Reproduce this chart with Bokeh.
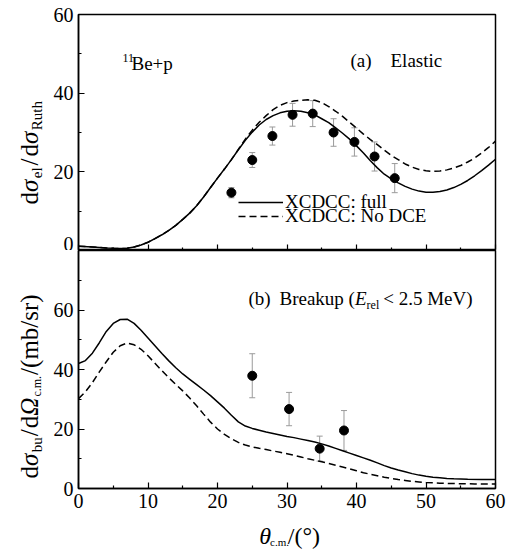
import math
from bokeh.plotting import figure
from bokeh.models import (Range1d, FixedTicker, Whisker, TeeHead, ColumnDataSource,
                          Label, Legend, LegendItem)
from bokeh.layouts import column, row
from bokeh.core.properties import value
from bokeh.embed import file_html
from bokeh.resources import INLINE

# ---------------- data ----------------
# (a) Elastic, XCDCC full
el_full_x = [0, 2, 4, 5, 6, 7, 8, 9, 10, 11, 12, 13, 14, 15, 16, 17, 18, 19, 20, 21, 22, 23,
             24, 25, 26, 27, 28, 29, 30, 31, 32, 33, 34, 35, 36, 37, 38, 39, 40, 41, 42, 43,
             44, 45, 46, 47, 48, 49, 50, 51, 52, 53, 54, 55, 56, 57, 58, 59, 60]
el_full_y = [1.1, 0.9, 0.65, 0.55, 0.5, 0.6, 0.9, 1.4, 2.1, 3.0, 4.0, 5.1, 6.4, 7.9, 9.5, 11.4,
             13.6, 16.0, 18.4, 20.7, 23.1, 25.6, 28.0, 30.1, 31.9, 33.3, 34.3, 35.0, 35.4, 35.5,
             35.4, 35.0, 34.5, 33.5, 32.5, 31.2, 29.8, 28.3, 26.6, 24.8, 22.8, 21.0, 19.4, 18.2,
             17.2, 16.3, 15.6, 15.1, 14.8, 14.8, 15.0, 15.4, 16.0, 16.8, 17.8, 19.0, 20.3, 21.7, 23.2]
# (a) Elastic, XCDCC No DCE
el_nodce_x = [0, 2, 4, 5, 6, 7, 8, 9, 10, 11, 12, 13, 14, 15, 16, 17, 18, 19, 20, 21, 22, 23,
              24, 25, 26, 27, 28, 29, 30, 31, 32, 33, 34, 35, 36, 37, 38, 39, 40, 41, 42, 43,
              44, 45, 46, 47, 48, 49, 50, 51, 52, 53, 54, 55, 56, 57, 58, 59, 60]
el_nodce_y = [1.1, 0.9, 0.65, 0.55, 0.5, 0.6, 0.9, 1.4, 2.1, 3.0, 4.0, 5.1, 6.4, 7.9, 9.5, 11.4,
              13.6, 16.0, 18.4, 20.7, 23.1, 25.7, 28.3, 30.6, 32.6, 34.3, 35.8, 36.9, 37.6, 38.0,
              38.2, 38.3, 38.2, 37.6, 36.6, 35.4, 34.1, 32.6, 31.1, 29.6, 28.2, 26.9, 25.5, 24.2,
              23.1, 22.0, 21.2, 20.6, 20.3, 20.1, 20.2, 20.5, 21.0, 21.6, 22.5, 23.5, 24.8, 26.2, 27.8]
el_exp_x = [22.0, 25.0, 27.9, 30.8, 33.7, 36.7, 39.7, 42.6, 45.5]
el_exp_y = [14.7, 23.0, 29.1, 34.5, 34.8, 30.0, 27.6, 23.9, 18.4]
el_exp_err = [1.3, 1.9, 2.3, 2.9, 3.3, 3.5, 3.6, 3.7, 3.7]

# (b) Breakup, XCDCC full
bu_full_x = [0, 1, 2, 3, 4, 5, 6, 7, 8, 9, 10, 11, 12, 13, 14, 15, 16, 17, 18, 19, 20, 21, 22,
             23, 24, 25, 26, 27, 28, 29, 30, 31, 32, 33, 34, 35, 36, 37, 38, 39, 40, 41, 42, 43,
             44, 45, 46, 47, 48, 49, 50, 51, 52, 53, 54, 56, 58, 60]
bu_full_y = [42.0, 43.0, 45.5, 49.0, 52.8, 55.5, 56.8, 56.9, 55.5, 53.2, 50.6, 48.0, 45.4, 42.9,
             40.6, 38.5, 36.7, 34.9, 33.1, 31.2, 29.1, 27.0, 24.6, 22.4, 21.0, 20.2, 19.6, 19.0,
             18.5, 18.0, 17.5, 17.1, 16.6, 16.1, 15.6, 15.0, 14.3, 13.5, 12.7, 11.9, 11.1, 10.3,
             9.5, 8.6, 7.7, 6.9, 6.2, 5.6, 5.0, 4.5, 4.1, 3.8, 3.6, 3.4, 3.3, 3.15, 3.05, 3.0]
# (b) Breakup, XCDCC No DCE
bu_nodce_x = [0, 1, 2, 3, 4, 5, 6, 7, 8, 9, 10, 11, 12, 13, 14, 15, 16, 17, 18, 19, 20, 21, 22,
              23, 24, 25, 26, 27, 28, 29, 30, 31, 32, 33, 34, 35, 36, 37, 38, 39, 40, 41, 42, 43,
              44, 45, 46, 47, 48, 49, 50, 52, 54, 57, 60]
bu_nodce_y = [30.2, 32.5, 35.6, 39.2, 42.6, 45.8, 48.0, 48.9, 48.3, 46.8, 44.6, 42.1, 39.6, 37.2,
              35.0, 32.8, 30.4, 27.8, 25.0, 22.3, 20.0, 18.2, 16.7, 15.5, 14.6, 14.0, 13.5, 13.1,
              12.6, 12.2, 11.7, 11.2, 10.6, 10.0, 9.5, 9.0, 8.4, 7.8, 7.2, 6.6, 6.0, 5.3, 4.8, 4.3,
              3.8, 3.4, 3.0, 2.7, 2.4, 2.2, 2.0, 1.8, 1.65, 1.55, 1.5]
bu_exp_x = [25.0, 30.3, 34.7, 38.2]
bu_exp_y = [37.9, 26.7, 13.4, 19.5]
bu_exp_err = [7.4, 5.6, 4.2, 6.7]

x_ticks = [0, 10, 20, 30, 40, 50, 60]
x_minor = [5, 15, 25, 35, 45, 55]
ya_ticks = [0, 20, 40, 60]
ya_minor = [10, 30, 50]
yb_ticks = [0, 20, 40, 60]
yb_minor = [10, 30, 50, 70]

FONT = "Liberation Serif"
ERR = "#9a9a9a"
PAGE_H = 555
LEFT_W = 46

# ------------- text width helper (Times metrics) -------------
WR = {' ': 250, '(': 333, ')': 333, '/': 278, '.': 250, ':': 278, '+': 564, '<': 564, '°': 400,
      'B': 667, 'C': 667, 'D': 722, 'E': 611, 'M': 889, 'N': 722, 'R': 667, 'V': 722, 'X': 722,
      'a': 444, 'b': 500, 'c': 444, 'd': 500, 'e': 444, 'f': 333, 'h': 500, 'i': 278, 'k': 500,
      'l': 278, 'm': 778, 'o': 500, 'p': 500, 'r': 333, 's': 389, 't': 278, 'u': 500,
      'θ': 500, 'σ': 550, 'Ω': 770}


def tw(s, size):
    return sum(WR.get(c, 500) for c in s) * size / 1000.0


def place(p, cx, cy, pieces, px, py):
    """Horizontal rich text made of Labels inside a plot frame (page pixel anchors)."""
    cur = px
    for txt, size, style, shift, gap in pieces:
        cur += gap
        p.add_layout(Label(x=cx(cur), y=cy(py + shift), text=txt,
                           text_font=FONT, text_font_size=f"{size}px", text_font_style=style,
                           text_align="left", text_baseline="alphabetic", text_color="black"))
        cur += tw(txt, size)


def glyph_text(p, pieces, px, py, x0, y_top, vertical=False):
    """Rich text drawn as text glyphs in a strip figure whose data units are pixels."""
    cur = py if vertical else px
    for txt, size, style, shift, gap in pieces:
        if vertical:
            cur -= gap
            x, y = px + shift - x0, y_top - cur
            ang = math.pi / 2
        else:
            cur += gap
            x, y = cur - x0, y_top - (py + shift)
            ang = 0
        p.text(x=[x], y=[y], text=[txt], angle=ang,
               text_font=value(FONT), text_font_size=value(f"{size}px"),
               text_font_style=style, text_align="left", text_baseline="alphabetic",
               text_color="black")
        cur = cur - tw(txt, size) if vertical else cur + tw(txt, size)


def style_axis(ax, ticks, minor, labels=True):
    ax.ticker = FixedTicker(ticks=ticks, minor_ticks=minor)
    ax.axis_line_color = "black"
    ax.axis_line_width = 1.5
    ax.major_tick_in = 6
    ax.major_tick_out = 0
    ax.minor_tick_in = 3
    ax.minor_tick_out = 0
    ax.major_tick_line_color = "black"
    ax.minor_tick_line_color = "black"
    ax.major_tick_line_width = 1.2
    ax.minor_tick_line_width = 1.2
    ax.major_label_text_font = FONT
    ax.major_label_text_color = "black"
    if labels:
        ax.major_label_text_font_size = "20px"
        ax.major_label_standoff = 5
    else:
        ax.major_label_text_font_size = "0px"
        ax.major_label_text_alpha = 0
        ax.major_label_standoff = 0


def base_fig(height, ymax, top, bottom):
    p = figure(width=512 - LEFT_W, height=height, x_range=Range1d(0, 60), y_range=Range1d(0, ymax),
               output_backend="svg", toolbar_location=None,
               min_border_left=78 - LEFT_W, min_border_right=17, min_border_top=top,
               min_border_bottom=bottom)
    p.grid.visible = False
    p.outline_line_color = "black"
    p.outline_line_width = 1.5
    p.outline_line_alpha = 1.0
    p.background_fill_color = "white"
    p.border_fill_color = "white"
    return p


def strip_fig(width, height):
    s = figure(width=width, height=height, x_range=Range1d(0, width), y_range=Range1d(0, height),
               output_backend="svg", toolbar_location=None,
               x_axis_location=None, y_axis_location=None,
               min_border_left=0, min_border_right=0, min_border_top=0, min_border_bottom=0)
    s.grid.visible = False
    s.outline_line_color = None
    s.background_fill_color = "white"
    s.border_fill_color = "white"
    return s


def cxa(px):
    return (px - 78) / 6.95


def cya(py):
    return (250 - py) * 60 / 236


def cyb(py):
    return (488 - py) * 80 / 238


# ---------------- panel (a) ----------------
p1 = base_fig(250, 60, 14, 0)
style_axis(p1.xaxis[0], x_ticks, x_minor, labels=False)
style_axis(p1.yaxis[0], ya_ticks, ya_minor)

ra_full = p1.line(el_full_x, el_full_y, line_color="black", line_width=1.5)
ra_nodce = p1.line(el_nodce_x, el_nodce_y, line_color="black", line_width=1.5, line_dash="7 4")
src_a = ColumnDataSource(dict(x=el_exp_x,
                              upper=[y + e for y, e in zip(el_exp_y, el_exp_err)],
                              lower=[y - e for y, e in zip(el_exp_y, el_exp_err)]))
p1.add_layout(Whisker(source=src_a, base="x", upper="upper", lower="lower",
                      line_color=ERR, line_width=1,
                      upper_head=TeeHead(size=6, line_color=ERR, line_width=1),
                      lower_head=TeeHead(size=6, line_color=ERR, line_width=1)))
p1.scatter(el_exp_x, el_exp_y, size=9, fill_color="black", line_color="black")

for item, ypos in ((LegendItem(label="XCDCC: full", renderers=[ra_full]), 37.3),
                   (LegendItem(label="XCDCC: No DCE", renderers=[ra_nodce]), 23.0)):
    lg = Legend(items=[item], location=(160, ypos), padding=0, margin=0, spacing=0,
                glyph_width=45, glyph_height=22, label_height=22, label_standoff=2,
                label_text_font=FONT, label_text_font_size="19px", label_text_color="black",
                border_line_alpha=0, background_fill_alpha=0)
    p1.add_layout(lg)

place(p1, cxa, cya, [("11", 12, "normal", 0, 0)], 122, 57)
place(p1, cxa, cya, [("Be+p", 19, "normal", 0, 0)], 131, 63)
place(p1, cxa, cya, [("(a)", 19, "normal", 0, 0)], 350, 60)
place(p1, cxa, cya, [("Elastic", 19, "normal", 0, 0)], 390, 60)

# ---------------- panel (b) ----------------
p2 = base_fig(268, 80, 0, 30)
style_axis(p2.xaxis[0], x_ticks, x_minor)
style_axis(p2.yaxis[0], yb_ticks, yb_minor)

p2.line(bu_full_x, bu_full_y, line_color="black", line_width=1.5)
p2.line(bu_nodce_x, bu_nodce_y, line_color="black", line_width=1.5, line_dash="7 4")
src_b = ColumnDataSource(dict(x=bu_exp_x,
                              upper=[y + e for y, e in zip(bu_exp_y, bu_exp_err)],
                              lower=[y - e for y, e in zip(bu_exp_y, bu_exp_err)]))
p2.add_layout(Whisker(source=src_b, base="x", upper="upper", lower="lower",
                      line_color=ERR, line_width=1,
                      upper_head=TeeHead(size=6, line_color=ERR, line_width=1),
                      lower_head=TeeHead(size=6, line_color=ERR, line_width=1)))
p2.scatter(bu_exp_x, bu_exp_y, size=9, fill_color="black", line_color="black")

place(p2, cxa, cyb, [("(b)", 19, "normal", 0, 0)], 248, 298)
place(p2, cxa, cyb, [("Breakup (", 19, "normal", 0, 0), ("E", 19, "italic", 0, 0),
                     ("rel", 12, "normal", 6, 0), ("< 2.5 MeV)", 19, "normal", 0, 4)], 279, 298)

# ---------------- x-axis title strip ----------------
STRIP_H = 37
pb = strip_fig(512 - LEFT_W, STRIP_H)
glyph_text(pb, [("θ", 24, "italic", 0, 0), ("c.m.", 11, "normal", 6, 0),
                ("/(°)", 24, "normal", 0, 1)], 248, 535, LEFT_W, PAGE_H)

# ---------------- left strip with the rotated y titles ----------------
pl = strip_fig(LEFT_W, PAGE_H)
glyph_text(pl, [("d", 25, "normal", 0, 0), ("σ", 25, "italic", 0, 0),
                ("el", 15, "normal", 7, 0), ("/", 25, "normal", 0, 2),
                ("d", 25, "normal", 0, 2), ("σ", 25, "italic", 0, 0),
                ("Ruth", 15, "normal", 7, 0)], 29, 204, 0, PAGE_H, vertical=True)
glyph_text(pl, [("d", 25, "normal", 0, 0), ("σ", 25, "italic", 0, 0),
                ("bu", 15, "normal", 7, 0), ("/", 25, "normal", 0, 1),
                ("d", 25, "normal", 0, 1), ("Ω", 25, "italic", 0, 0),
                ("c.m.", 12, "normal", 7, 0), ("/(mb/sr)", 25, "normal", 0, 1)],
           29, 478, 0, PAGE_H, vertical=True)

layout = row(pl, column(p1, p2, pb, spacing=0), spacing=0)
open("out.html", "w").write(file_html(layout, INLINE))
